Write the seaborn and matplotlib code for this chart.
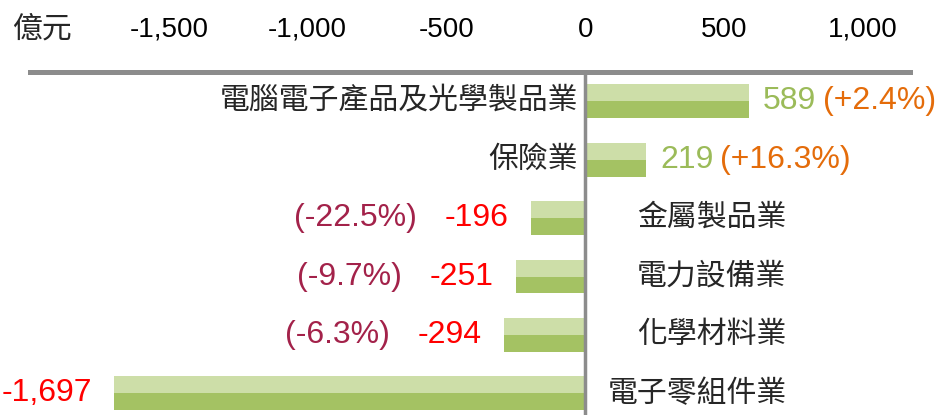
import pandas as pd
import matplotlib
matplotlib.use("Agg")
import matplotlib.pyplot as plt
import seaborn as sns

industries = ["電腦電子產品及光學製品業", "保險業", "金屬製品業", "電力設備業", "化學材料業", "電子零組件業"]
values = [589, 219, -196, -251, -294, -1697]
pct_labels = ["(+2.4%)", "(+16.3%)", "(-22.5%)", "(-9.7%)", "(-6.3%)", ""]
ticks = [-1500, -1000, -500, 0, 500, 1000]

sns.set_style("white")
plt.rcParams["font.family"] = ["Liberation Sans", "Noto Sans CJK TC"]

light = "#cddea8"
dark = "#a4c263"
gray = "#8c8c8c"

# each bar is drawn as two halves (light on top, dark below)
df = pd.DataFrame({
    "industry": industries * 2,
    "value": values * 2,
    "half": ["top"] * len(values) + ["bottom"] * len(values),
})

fig = plt.figure(figsize=(9.42, 4.15), dpi=100)
ax = fig.add_axes([30 / 942, 0, 880 / 942, 343 / 415])

sns.barplot(data=df, x="value", y="industry", hue="half", hue_order=["top", "bottom"],
            palette=[light, dark], saturation=1, linewidth=0, width=0.58,
            orient="h", legend=False, ax=ax)

ax.set_xlim(-2000, 1170)
ax.set_ylim(5.37, -0.5)
ax.set_xlabel("")
ax.set_ylabel("")
ax.tick_params(left=False, labelleft=False)

ax.xaxis.tick_top()
ax.set_xticks(ticks)
ax.set_xticklabels([f"{t:,}" for t in ticks])
ax.tick_params(axis="x", length=0, pad=21, labelsize=20, colors="black")

for s in ["left", "right", "bottom"]:
    ax.spines[s].set_visible(False)
ax.spines["top"].set_color(gray)
ax.spines["top"].set_linewidth(3.6)
ax.axvline(0, color=gray, lw=2.5, zorder=3)

fig.text(12 / 942, 1 - 30 / 415, "億元", ha="left", va="center", fontsize=21.5)

for i, (name, v, pct) in enumerate(zip(industries, values, pct_labels)):
    if v > 0:
        ax.annotate(name, xy=(0, i), xytext=(-5, 0), textcoords="offset points",
                    ha="right", va="center", fontsize=21.5)
        t = ax.annotate(f"{v:,}", xy=(v, i), xytext=(10, 0), textcoords="offset points",
                        ha="left", va="center", fontsize=23, color="#9bbb59")
        ax.annotate(pct, xy=(1, 0.5), xycoords=t, xytext=(5, 0), textcoords="offset points",
                    ha="left", va="center", fontsize=23, color="#e46c0a")
    else:
        ax.annotate(name, xy=(0, i), xytext=(145, 0), textcoords="offset points",
                    ha="right", va="center", fontsize=21.5)
        t = ax.annotate(f"{v:,}", xy=(v, i), xytext=(-16, 0), textcoords="offset points",
                        ha="right", va="center", fontsize=23, color="#ff0000")
        if pct:
            ax.annotate(pct, xy=(0, 0.5), xycoords=t, xytext=(-20, 0), textcoords="offset points",
                        ha="right", va="center", fontsize=23, color="#a3224a")

fig.savefig("out.png", dpi=100)
